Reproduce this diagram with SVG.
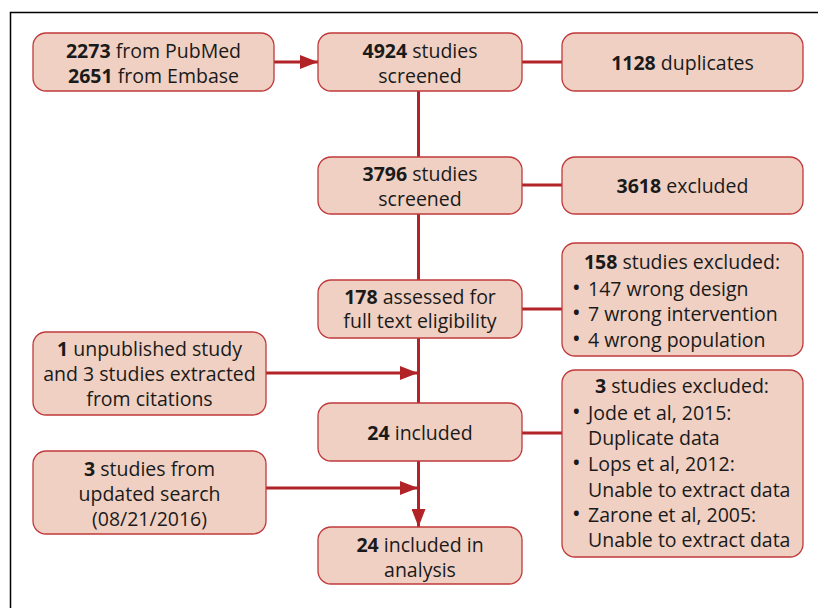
<svg xmlns="http://www.w3.org/2000/svg" width="818" height="608" viewBox="0 0 818 608">
<defs>
<style>
.box{fill:#f0d0c2;stroke:#c0393b;stroke-width:1.3}
text{font-family:"Open Sans","DejaVu Sans",sans-serif;font-size:19.5px;fill:#1a1a1a}
.c{text-anchor:middle}
.b{font-weight:bold}
.bu{font-size:23px}
.ln{stroke:#b22328;stroke-width:3;fill:none}
</style>
<marker id="ah" viewBox="0 0 18 14" refX="18" refY="7" markerWidth="18" markerHeight="14" markerUnits="userSpaceOnUse" orient="auto">
<path d="M0,0 L18,7 L0,14 Z" fill="#b22328"/>
</marker>
</defs>
<rect x="0" y="0" width="818" height="608" fill="#fff"/>
<path d="M10.5,620 V12.5 H830" fill="none" stroke="#000" stroke-width="1.5"/>
<g id="connectors">
<line class="ln" x1="274" y1="62" x2="318" y2="62" marker-end="url(#ah)"/>
<line class="ln" x1="522" y1="62" x2="562" y2="62"/>
<line class="ln" x1="522" y1="185" x2="562" y2="185"/>
<line class="ln" x1="522" y1="309" x2="562" y2="309"/>
<line class="ln" x1="522" y1="433" x2="562" y2="433"/>
<line class="ln" x1="418.5" y1="91" x2="418.5" y2="157"/>
<line class="ln" x1="418.5" y1="214" x2="418.5" y2="280"/>
<line class="ln" x1="418.5" y1="338" x2="418.5" y2="403"/>
<line class="ln" x1="418.5" y1="461" x2="418.5" y2="527" marker-end="url(#ah)"/>
<line class="ln" x1="266" y1="373" x2="418" y2="373" marker-end="url(#ah)"/>
<line class="ln" x1="266" y1="488" x2="418" y2="488" marker-end="url(#ah)"/>
</g>
<g id="n1"><rect class="box" x="33" y="33" width="241" height="58" rx="13"/>
<text class="c" x="153.5" y="58"><tspan class="b">2273</tspan> from PubMed</text>
<text class="c" x="153.5" y="83"><tspan class="b">2651</tspan> from Embase</text></g>
<g id="n2"><rect class="box" x="318" y="33" width="204" height="58" rx="13"/>
<text class="c" x="420" y="58"><tspan class="b">4924</tspan> studies</text>
<text class="c" x="420" y="83">screened</text></g>
<g id="n3"><rect class="box" x="562" y="33" width="241" height="58" rx="13"/>
<text class="c" x="682.5" y="70"><tspan class="b">1128</tspan> duplicates</text></g>
<g id="n4"><rect class="box" x="318" y="157" width="204" height="57" rx="13"/>
<text class="c" x="420" y="181"><tspan class="b">3796</tspan> studies</text>
<text class="c" x="420" y="206">screened</text></g>
<g id="n5"><rect class="box" x="562" y="157" width="241" height="57" rx="13"/>
<text class="c" x="682.5" y="193"><tspan class="b">3618</tspan> excluded</text></g>
<g id="n6"><rect class="box" x="318" y="280" width="204" height="58" rx="13"/>
<text class="c" x="420" y="304"><tspan class="b">178</tspan> assessed for</text>
<text class="c" x="420" y="328">full text eligibility</text></g>
<g id="n7"><rect class="box" x="562" y="243" width="241" height="113" rx="13"/>
<text class="c" x="682" y="269"><tspan class="b">158</tspan> studies excluded:</text>
<text x="572" y="296"><tspan class="bu">•</tspan><tspan x="588">147 wrong design</tspan></text>
<text x="572" y="321"><tspan class="bu">•</tspan><tspan x="588">7 wrong intervention</tspan></text>
<text x="572" y="347"><tspan class="bu">•</tspan><tspan x="588">4 wrong population</tspan></text></g>
<g id="n8"><rect class="box" x="33" y="332" width="233" height="83" rx="13"/>
<text class="c" x="149.5" y="356"><tspan class="b">1</tspan> unpublished study</text>
<text class="c" x="149.5" y="381">and 3 studies extracted</text>
<text class="c" x="149.5" y="406">from citations</text></g>
<g id="n9"><rect class="box" x="318" y="403" width="204" height="58" rx="13"/>
<text class="c" x="420" y="440"><tspan class="b">24</tspan> included</text></g>
<g id="n10"><rect class="box" x="562" y="370" width="241" height="187" rx="13"/>
<text class="c" x="682" y="393"><tspan class="b">3</tspan> studies excluded:</text>
<text x="572" y="420"><tspan class="bu">•</tspan><tspan x="588">Jode et al, 2015:</tspan></text>
<text x="588" y="445">Duplicate data</text>
<text x="572" y="471"><tspan class="bu">•</tspan><tspan x="588">Lops et al, 2012:</tspan></text>
<text x="588" y="497">Unable to extract data</text>
<text x="572" y="522"><tspan class="bu">•</tspan><tspan x="588">Zarone et al, 2005:</tspan></text>
<text x="588" y="547">Unable to extract data</text></g>
<g id="n11"><rect class="box" x="33" y="451" width="233" height="83" rx="13"/>
<text class="c" x="149.5" y="476"><tspan class="b">3</tspan> studies from</text>
<text class="c" x="149.5" y="501">updated search</text>
<text class="c" x="149.5" y="526">(08/21/2016)</text></g>
<g id="n12"><rect class="box" x="318" y="527" width="204" height="57" rx="13"/>
<text class="c" x="420" y="552"><tspan class="b">24</tspan> included in</text>
<text class="c" x="420" y="577">analysis</text></g>
</svg>
